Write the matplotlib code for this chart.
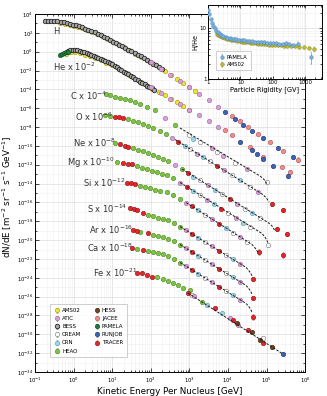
import numpy as np
import matplotlib.pyplot as plt
from matplotlib.ticker import LogLocator, LogFormatterSciNotation, NullFormatter

plt.rcParams["font.family"] = "DejaVu Sans"
plt.rcParams["mathtext.fontset"] = "dejavusans"

# ---------------------------------------------------------
# EXPERIMENTS / STYLE
# ---------------------------------------------------------
EXPERIMENTS = ["AMS02", "ATIC", "BESS", "CREAM", "CRN", "HEAO",
               "HESS", "JACEE", "PAMELA", "RUNJOB", "TRACER"]
FACE = {"AMS02": "#f2e52c", "ATIC": "#d9a0d8", "BESS": "#a8a8a8",
        "CREAM": "#ffffff", "CRN": "#9fd5e6", "HEAO": "#7cc243",
        "HESS": "#6f4521", "JACEE": "#f08c8c", "PAMELA": "#1d7b3c",
        "RUNJOB": "#3d63b4", "TRACER": "#e3262b"}
EDGE = {"AMS02": "#9c9412", "ATIC": "#9a6898", "BESS": "#262626",
        "CREAM": "#777777", "CRN": "#5a98ae", "HEAO": "#4d8a20",
        "HESS": "#3a2008", "JACEE": "#b05454", "PAMELA": "#0b4a1c",
        "RUNJOB": "#1c3272", "TRACER": "#8c1212"}
MEW = {"BESS": 0.6}
ZORD = {"AMS02": 2, "BESS": 3, "PAMELA": 4, "HEAO": 3, "CRN": 4, "CREAM": 4,
        "ATIC": 5, "TRACER": 5, "HESS": 5, "JACEE": 5, "RUNJOB": 5}
DRAW_ORDER = ["AMS02", "BESS", "PAMELA", "HEAO", "CRN", "CREAM",
              "ATIC", "TRACER", "HESS", "JACEE", "RUNJOB"]

# ---------------------------------------------------------
# DATA  (E in GeV/nucleon, flux already multiplied by scale)
# ---------------------------------------------------------
# H
H_BESS_E = [0.18, 0.22, 0.26, 0.32, 0.38, 0.46, 0.55, 0.66, 0.79, 0.95,
            1.15, 1.38, 1.66, 2.0, 2.4, 2.9, 3.5, 4.2, 5.0, 6.0,
            7.2, 8.7, 10.5, 12.6, 15.1, 18.2, 21.9, 26.3, 31.6, 38.0,
            45.7, 55.0, 66.0, 79.0, 95.0, 115.0, 138.0, 166.0, 200.0]
H_BESS_F = [1950, 1900, 1820, 1740, 1620, 1480, 1290, 1100, 910, 760,
            620, 490, 380, 290, 214, 155, 110, 78, 54, 37,
            26, 17.4, 11.7, 7.9, 5.4, 3.6, 2.45, 1.62, 1.07, 0.71,
            0.47, 0.31, 0.20, 0.13, 0.085, 0.055, 0.035, 0.022, 0.014]
H_AMS_E = [0.45, 0.6, 0.8, 1.0, 1.3, 1.7, 2.2, 3.0, 4.0, 5.5, 7.5, 10, 14,
           20, 28, 40, 56, 80, 110, 160, 230, 330, 470, 680, 1000, 1400]
H_AMS_F = [1070, 890, 690, 560, 430, 310, 214, 126, 78, 42, 23, 12.3, 6.2,
           2.9, 1.35, 0.63, 0.29, 0.13, 0.062, 0.0245, 0.0091, 0.0034,
           0.00132, 4.9e-4, 1.7e-4, 6.8e-5]
H_ATIC_E = [100, 180, 320, 560, 1000, 1800, 3200, 5600]
H_ATIC_F = [0.079, 0.0162, 3.5e-3, 7.6e-4, 1.6e-4, 3.2e-5, 6.9e-6, 1.5e-6]
H_RUNJOB_E = [8300, 15100, 24500, 41700, 81300, 2.0e5, 4.8e5]
H_RUNJOB_F = [4.0e-7, 6.6e-8, 1.5e-8, 4.0e-9, 7.6e-10, 6.6e-11, 6.8e-12]
H_JACEE_E = [12600, 20400, 33100, 60300, 1.23e5, 2.63e5, 6.46e5]
H_JACEE_F = [1.4e-7, 4.0e-8, 1.12e-8, 1.9e-9, 2.8e-10, 3.2e-11, 3.5e-12]

# He (x 1e-2)
He_PAM_E = [0.45, 0.50, 0.56, 0.63, 0.71]
He_PAM_F = [0.42, 0.52, 0.66, 0.83, 1.05]
He_BESS_E = [0.72, 0.83, 0.95, 1.10, 1.26, 1.45, 1.66, 1.91, 2.19, 2.51,
             2.88, 3.31, 3.80, 4.37, 5.01, 5.75, 6.61, 7.59, 8.71, 10.0,
             11.5, 13.2, 15.1, 17.4, 20.0, 22.9, 26.3, 30.2, 34.7, 39.8,
             45.7, 52.5, 60.3, 69.2, 79.4, 91.2, 105, 120]
He_BESS_F = [1.32, 1.48, 1.55, 1.51, 1.38, 1.20, 1.02, 0.83, 0.69, 0.56,
             0.45, 0.355, 0.28, 0.224, 0.182, 0.138, 0.105, 0.079, 0.059, 0.044,
             0.032, 0.022, 0.0158, 0.0112, 0.0079, 0.0056, 0.0040, 0.00275, 0.0019, 0.00132,
             9.3e-4, 6.6e-4, 4.8e-4, 3.5e-4, 2.5e-4, 1.8e-4, 1.32e-4, 9.5e-5]
He_AMS_E = [0.65, 0.85, 1.1, 1.5, 2.0, 2.7, 3.6, 5.0, 7.0, 10, 14, 20, 28,
            40, 56, 80, 110, 160, 230, 330, 470, 680, 1000]
He_AMS_F = [0.56, 0.89, 0.93, 0.72, 0.50, 0.33, 0.214, 0.132, 0.071, 0.035,
            0.0166, 0.0072, 0.0032, 1.3e-3, 5.6e-4, 2.5e-4, 1.17e-4, 5.8e-5,
            2.4e-5, 9.8e-6, 4.3e-6, 1.8e-6, 6.9e-7]
He_ATIC_E = [100, 180, 320, 560, 1000, 1800, 3200, 5600]
He_ATIC_F = [1.74e-4, 4.3e-5, 1.07e-5, 2.8e-6, 6.9e-7, 1.7e-7, 4.3e-8, 1.12e-8]
He_JACEE_E = [8300, 12600, 37200, 81300, 2.51e5, 4.07e5]
He_JACEE_F = [4.9e-9, 1.45e-9, 7.6e-11, 6.3e-12, 5.8e-13, 1.7e-13]
He_RUNJOB_E = [20400, 41700, 56200, 81300, 1.48e5, 3.63e5]
He_RUNJOB_F = [2.5e-10, 4.0e-11, 1.4e-11, 4.5e-12, 7.1e-13, 6.3e-14]

# C (x 1e-4)
C_E = [6.93, 8.79, 11.9, 16.0, 21.5, 29.0, 39.2, 52.7, 80.2, 129,
       235, 427, 984, 1250, 1900, 3880, 5240, 7480, 15300, 31300, 1.04e5]
C_F = [2.99e-5, 2.34e-5, 1.66e-5, 1.30e-5, 9.5e-6, 7.4e-6, 4.9e-6, 2.79e-6, 1.44e-6, 6.4e-7,
       9.1e-8, 1.64e-8, 1.61e-9, 5.4e-10, 2.9e-10, 5.9e-11, 2.24e-11, 8.4e-12, 1.52e-12,
       3.5e-13, 1.46e-14]
C_SRC = ["HEAO"] * 10 + ["ATIC", "HEAO", "CREAM", "CRN", "CREAM", "ATIC",
                         "CREAM", "ATIC", "CREAM", "ATIC", "CREAM"]
C_ERR = [0] * 20 + [0.22]
C_FIT_E = [574, 68200, 86500, 1.04e5]
C_FIT_F = [7.9e-9, 6.3e-14, 2.69e-14, 8.97e-15]

# O (x 1e-6)
O_E = [6.53, 8.79, 11.9, 15.1, 19.1, 25.8, 34.8, 46.8, 63.1, 85.1, 115, 174, 249,
       356, 510, 774, 1040, 1580, 2270, 3440, 5240, 7940, 12800, 20700, 37500,
       60500, 1.40e5, 2.69e5]
O_F = [1.90e-7, 1.67e-7, 1.31e-7, 1.11e-7, 9.8e-8, 7.1e-8, 4.9e-8, 3.4e-8, 2.37e-8,
       1.46e-8, 7.9e-9, 4.3e-9, 1.82e-9, 6.9e-10, 2.9e-10, 9.7e-11, 4.66e-11,
       1.55e-11, 6.6e-12, 2.48e-12, 8.2e-13, 2.75e-13, 8.1e-14, 2.38e-14, 4.9e-15,
       1.43e-15, 6.7e-17, 1.56e-17]
O_SRC = ["HEAO", "HEAO", "TRACER", "TRACER", "TRACER"] + ["HEAO"] * 8 + [
    "ATIC", "TRACER", "CRN", "CREAM", "ATIC", "CRN", "CREAM", "TRACER", "ATIC",
    "CREAM", "CRN", "CREAM", "ATIC", "TRACER", "TRACER"]
O_ERR = [0] * 26 + [0.2, 0.25]
O_FIT_E = [427, 76700, 97500, 1.17e5]
O_FIT_F = [4.75e-10, 7.8e-16, 3.3e-16, 1.10e-16]

# Ne (x 1e-8)
Ne_E = [11.9, 16.0, 21.5, 25.8, 34.8, 46.8, 63.1, 85.1, 115, 155, 208, 281, 427,
        647, 927, 1250, 1900, 3060, 4650, 7050, 11400, 17300, 27900, 42300, 68200,
        1.88e5, 3.41e5]
Ne_F = [2.17e-10, 1.58e-10, 1.04e-10, 8.2e-11, 5.9e-11, 4.1e-11, 2.86e-11, 1.98e-11,
        1.21e-11, 7.4e-12, 4.6e-12, 2.48e-12, 9.3e-13, 3.5e-13, 1.32e-13, 5.6e-14,
        2.38e-14, 7.0e-15, 2.34e-15, 7.8e-16, 2.29e-16, 7.6e-17, 2.25e-17, 7.5e-18,
        2.2e-18, 1.5e-19, 4.4e-20]
Ne_SRC = ["HEAO", "TRACER", "TRACER", "TRACER"] + ["HEAO"] * 8 + [
    "ATIC", "HEAO", "TRACER", "CRN", "CREAM", "ATIC", "CRN", "CREAM", "TRACER",
    "ATIC", "CREAM", "CRN", "CREAM", "TRACER", "TRACER"]
Ne_ERR = [0] * 25 + [0.2, 0.25]
Ne_FIT_E = [647, 1.10e5, 1.40e5, 1.67e5]
Ne_FIT_F = [3.5e-13, 7.3e-19, 3.1e-19, 9.2e-20]

# Mg (x 1e-10)
Mg_E = [13.4, 19.1, 25.8, 32.7, 44.2, 59.4, 80.2, 108, 146, 196, 264, 379, 574,
        873, 1250, 1900, 2880, 4380, 6640, 10100, 16300, 24700, 37500, 1.10e5, 2.69e5]
Mg_F = [2.19e-12, 1.64e-12, 1.35e-12, 1.11e-12, 7.3e-13, 5.1e-13, 3.5e-13, 2.43e-13,
        1.68e-13, 1.17e-13, 8.1e-14, 3.9e-14, 1.29e-14, 4.3e-15, 1.83e-15, 6.1e-16,
        2.03e-16, 6.7e-17, 2.25e-17, 7.5e-18, 2.2e-18, 7.3e-19, 2.44e-19, 3.0e-21, 2.6e-22]
Mg_SRC = ["HEAO", "TRACER", "TRACER", "TRACER"] + ["HEAO"] * 8 + [
    "ATIC", "TRACER", "CRN", "CREAM", "ATIC", "CRN", "TRACER", "CREAM", "ATIC",
    "CRN", "CREAM", "CREAM", "TRACER"]
Mg_ERR = [0] * 23 + [0.25, 0.3]
Mg_FIT_E = [574, 76700, 94600, 1.10e5]
Mg_FIT_F = [1.29e-14, 5.0e-20, 1.66e-20, 4.9e-21]

# Si (x 1e-12)
Si_E = [24.3, 30.8, 39.2, 52.7, 71.1, 95.9, 129, 174, 264, 379, 574, 822, 1170,
        1680, 2560, 3880, 5890, 8950, 13600, 20700, 31400, 64300]
Si_F = [1.23e-14, 1.06e-14, 8.3e-15, 5.5e-15, 4.3e-15, 3.13e-15, 2.34e-15, 1.83e-15,
        1.36e-15, 6.9e-16, 2.59e-16, 9.7e-17, 4.1e-17, 1.56e-17, 5.2e-18, 1.73e-18,
        5.7e-19, 1.91e-19, 6.4e-20, 2.12e-20, 7.0e-21, 5.4e-22]
Si_SRC = ["TRACER"] * 3 + ["HEAO"] * 8 + [
    "ATIC", "TRACER", "CRN", "CREAM", "ATIC", "TRACER", "CRN", "CREAM", "ATIC",
    "CREAM", "TRACER"]
Si_ERR = [0] * 21 + [0.3]
Si_FIT_E = [822, 42300, 52100, 60500]
Si_FIT_F = [9.7e-17, 3.4e-21, 1.27e-21, 4.8e-22]

# S (x 1e-14)
S_E = [29.0, 36.9, 44.2, 63.1, 85.1, 115, 155, 208, 281, 402, 574, 822, 1170, 1680,
       2560, 3880, 5890, 8950, 13600, 20700, 44900]
S_F = [2.36e-17, 1.99e-17, 1.76e-17, 7.5e-18, 5.2e-18, 3.6e-18, 2.49e-18, 1.73e-18,
       1.26e-18, 6.5e-19, 2.76e-19, 1.12e-19, 4.4e-20, 1.79e-20, 6.2e-21, 2.13e-21,
       7.4e-22, 2.6e-22, 8.9e-23, 3.1e-23, 7.4e-25]
S_SRC = ["TRACER"] * 4 + ["HEAO"] * 7 + [
    "ATIC", "TRACER", "CRN", "CREAM", "ATIC", "TRACER", "CREAM", "CRN", "ATIC", "TRACER"]
S_ERR = [0] * 20 + [0.25]
S_FIT_E = [574, 29600, 36400, 43600]
S_FIT_F = [2.76e-19, 1.26e-23, 4.6e-24, 1.36e-24]

# Ar (x 1e-16)
Ar_E = [34.8, 44.2, 52.7, 85.1, 115, 155, 208, 281, 402, 574, 822, 1170, 1680, 2560,
        3880, 5890, 8950, 13600, 20700, 44900]
Ar_F = [1.17e-19, 9.2e-20, 7.7e-20, 5.6e-20, 3.9e-20, 3.05e-20, 2.12e-20, 1.47e-20,
        8.0e-21, 3.4e-21, 1.44e-21, 5.4e-22, 2.19e-22, 7.7e-23, 2.61e-23, 9.1e-24,
        3.2e-24, 1.09e-24, 3.8e-25, 7.1e-27]
Ar_SRC = ["TRACER", "TRACER", "HEAO", "TRACER"] + ["HEAO"] * 6 + [
    "ATIC", "TRACER", "CRN", "CREAM", "ATIC", "TRACER", "CREAM", "CRN", "ATIC", "TRACER"]
Ar_ERR = [0] * 19 + [0.25]
Ar_FIT_E = [574, 29600, 36400, 43600]
Ar_FIT_F = [3.4e-21, 1.54e-25, 5.7e-26, 1.48e-26]

# Ca (x 1e-18)
Ca_E = [32.7, 44.2, 63.1, 85.1, 115, 155, 208, 281, 402, 574, 822, 1170, 1680, 2560,
        3880, 5890, 8950, 13600, 20700, 44900]
Ca_F = [1.55e-21, 1.27e-21, 8.8e-22, 6.9e-22, 5.4e-22, 4.2e-22, 3.09e-22, 2.04e-22,
        9.8e-23, 4.2e-23, 1.77e-23, 6.7e-24, 2.69e-24, 9.4e-25, 3.2e-25, 1.12e-25,
        3.9e-26, 1.34e-26, 4.7e-27, 6.8e-29]
Ca_SRC = ["TRACER", "HEAO", "TRACER"] + ["HEAO"] * 7 + [
    "ATIC", "TRACER", "CRN", "CREAM", "ATIC", "TRACER", "CREAM", "CRN", "ATIC", "TRACER"]
Ca_ERR = [0] * 19 + [0.3]
Ca_FIT_E = [574, 29600, 36400, 43600]
Ca_FIT_F = [4.2e-23, 1.89e-27, 6.9e-28, 1.81e-28]

# Fe (x 1e-21)
Fe_E = [44.2, 59.4, 80.2, 108, 146, 208, 281, 379, 510, 687, 1040, 927, 1170, 1320,
        2140, 2880, 4650, 7050, 11400, 13600, 17300, 18300, 33300, 42300, 68200,
        81500, 81500, 1.40e5, 2.69e5]
Fe_F = [3.4e-24, 2.96e-24, 1.96e-24, 1.29e-24, 1.12e-24, 6.8e-25, 4.5e-25, 2.77e-25,
        1.70e-25, 9.2e-26, 5.0e-26, 2.23e-26, 1.48e-26, 1.31e-26, 2.87e-27, 1.28e-27,
        5.7e-28, 1.68e-28, 4.95e-29, 3.27e-29, 1.46e-29, 9.6e-30, 2.84e-30, 1.87e-30,
        2.47e-31, 3.7e-31, 1.10e-31, 4.8e-32, 8.0e-33]
Fe_SRC = ["TRACER"] * 4 + ["HEAO"] * 7 + [
    "TRACER", "CREAM", "ATIC", "HEAO", "CRN", "TRACER", "CRN", "ATIC", "TRACER",
    "HESS", "ATIC", "TRACER", "HESS", "HESS", "CREAM", "TRACER", "HESS", "RUNJOB"]
Fe_ERR = [0] * 25 + [0.15, 0, 0, 0.1]
Fe_FIT_E = [927, 2.69e5]
Fe_FIT_F = [2.40e-26, 8.0e-33]

# H/He ratio (inset)
PAM_R = [1.0, 1.1, 1.2, 1.3, 1.45, 1.6, 1.8, 2.0, 2.3, 2.6, 3.0, 3.5, 4.0, 4.7, 5.5,
         6.5, 7.5, 9, 11, 13, 16, 19, 23, 28, 34, 42, 52, 65, 80, 100, 125, 160, 200,
         250, 320, 420, 600, 1500]
PAM_RATIO = [23, 19, 15.5, 13, 11.2, 10, 9.0, 8.4, 7.8, 7.4, 7.0, 6.8, 6.6, 6.4, 6.3,
             6.2, 6.1, 6.0, 5.9, 5.8, 5.7, 5.65, 5.55, 5.5, 5.45, 5.4, 5.3, 5.25, 5.2,
             5.1, 5.1, 5.0, 5.0, 5.05, 4.9, 4.8, 4.9, 2.7]
PAM_ERR = [0] * 36 + [0.5, 0.7]
AMS_R = [1.9, 2.1, 2.4, 2.7, 3.0, 3.4, 3.9, 4.5, 5.2, 6.0, 7.0, 8.0, 9.5, 11, 13, 15,
         18, 21, 25, 30, 36, 43, 52, 63, 76, 93, 115, 140, 175, 220, 280, 360, 470,
         640, 900, 1300, 1800]
AMS_RATIO = [7.8, 7.5, 7.2, 6.9, 6.7, 6.5, 6.3, 6.15, 6.0, 5.9, 5.8, 5.7, 5.6, 5.5,
             5.45, 5.35, 5.3, 5.2, 5.15, 5.1, 5.0, 4.95, 4.9, 4.85, 4.8, 4.75, 4.7,
             4.65, 4.6, 4.55, 4.5, 4.45, 4.4, 4.3, 4.2, 4.1, 4.0]
AMS_ERR = [0] * 35 + [0.25, 0.35]

# labels on the plot
LABELS = ["H", "He x 10$^{-2}$", "C x 10$^{-4}$", "O x 10$^{-6}$", "Ne x 10$^{-8}$",
          "Mg x 10$^{-10}$", "Si x 10$^{-12}$", "S x 10$^{-14}$", "Ar x 10$^{-16}$",
          "Ca x 10$^{-18}$", "Fe x 10$^{-21}$"]
LABEL_X = [0.067, 0.067, 0.130, 0.148, 0.141, 0.119, 0.178, 0.193, 0.200, 0.193, 0.215]
LABEL_Y = [0.950, 0.852, 0.771, 0.712, 0.640, 0.584, 0.528, 0.455, 0.397, 0.346, 0.277]

# ---------------------------------------------------------
# PLOT
# ---------------------------------------------------------
fig = plt.figure(figsize=(3.27, 3.96), dpi=100)
ax = fig.add_axes([0.107, 0.0606, 0.826, 0.904])
ax.set_xscale("log")
ax.set_yscale("log")

handles = {}


def draw(E, F, src, err):
    E = np.asarray(E, float)
    F = np.asarray(F, float)
    src = np.asarray(src)
    err = np.asarray(err, float)
    err = np.where(err > 0, err, np.nan)
    for name in DRAW_ORDER:
        m = src == name
        if not m.any():
            continue
        lo = F[m] * (1 - 10 ** -err[m])
        hi = F[m] * (10 ** err[m] - 1)
        h = ax.errorbar(E[m], F[m], yerr=[lo, hi], fmt="o", ms=3.2,
                        mfc=FACE[name], mec=EDGE[name], mew=MEW.get(name, 0.4),
                        ecolor="#8a8a8a", elinewidth=0.5, capsize=1.0,
                        capthick=0.5, zorder=ZORD[name])
        handles.setdefault(name, h)


def block(parts):
    E, F, S, R = [], [], [], []
    for name, e, f, r in parts:
        E += e
        F += f
        S += [name] * len(e)
        R += r if r else [0] * len(e)
    return E, F, S, R


H_E, H_F, H_S, H_R = block([
    ("AMS02", H_AMS_E, H_AMS_F, None),
    ("BESS", H_BESS_E, H_BESS_F, None),
    ("ATIC", H_ATIC_E, H_ATIC_F, None),
    ("RUNJOB", H_RUNJOB_E, H_RUNJOB_F, [0] * 6 + [0.2]),
    ("JACEE", H_JACEE_E, H_JACEE_F, [0] * 6 + [0.25]),
])
He_E, He_F, He_S, He_R = block([
    ("AMS02", He_AMS_E, He_AMS_F, None),
    ("BESS", He_BESS_E, He_BESS_F, None),
    ("PAMELA", He_PAM_E, He_PAM_F, None),
    ("ATIC", He_ATIC_E, He_ATIC_F, None),
    ("JACEE", He_JACEE_E, He_JACEE_F, [0] * 5 + [0.25]),
    ("RUNJOB", He_RUNJOB_E, He_RUNJOB_F, [0] * 5 + [0.25]),
])

draw(H_E, H_F, H_S, H_R)
draw(He_E, He_F, He_S, He_R)
for E, F, S, R, fe, ff in [
        (C_E, C_F, C_SRC, C_ERR, C_FIT_E, C_FIT_F),
        (O_E, O_F, O_SRC, O_ERR, O_FIT_E, O_FIT_F),
        (Ne_E, Ne_F, Ne_SRC, Ne_ERR, Ne_FIT_E, Ne_FIT_F),
        (Mg_E, Mg_F, Mg_SRC, Mg_ERR, Mg_FIT_E, Mg_FIT_F),
        (Si_E, Si_F, Si_SRC, Si_ERR, Si_FIT_E, Si_FIT_F),
        (S_E, S_F, S_SRC, S_ERR, S_FIT_E, S_FIT_F),
        (Ar_E, Ar_F, Ar_SRC, Ar_ERR, Ar_FIT_E, Ar_FIT_F),
        (Ca_E, Ca_F, Ca_SRC, Ca_ERR, Ca_FIT_E, Ca_FIT_F),
        (Fe_E, Fe_F, Fe_SRC, Fe_ERR, Fe_FIT_E, Fe_FIT_F)]:
    draw(E, F, S, R)
    ax.plot(fe, ff, color="#1a1a1a", lw=0.7, ls=(0, (2.5, 1.5)), zorder=6)

for txt, x, y in zip(LABELS, LABEL_X, LABEL_Y):
    ax.text(x, y, txt, transform=ax.transAxes, fontsize=6, ha="left",
            va="center", color="#333333", zorder=7)

ax.set_xlim(0.1, 1e6)
ax.set_ylim(1e-34, 1e4)
ax.xaxis.set_major_locator(LogLocator(base=10, numticks=12))
ax.xaxis.set_minor_locator(LogLocator(base=10, subs=np.arange(2, 10), numticks=12))
ax.xaxis.set_minor_formatter(NullFormatter())
ax.yaxis.set_major_locator(LogLocator(base=100, numticks=30))
ax.yaxis.set_major_formatter(LogFormatterSciNotation(base=10))
ax.yaxis.set_minor_locator(LogLocator(base=10, subs=[1.0], numticks=50))
ax.yaxis.set_minor_formatter(NullFormatter())
ax.tick_params(which="both", direction="in", top=True, right=True,
               labelsize=3.8, width=0.5)
ax.tick_params(axis="x", pad=2.8)
ax.tick_params(axis="y", pad=1.2)
ax.tick_params(which="major", length=3)
ax.tick_params(which="minor", length=1.5)
ax.grid(True, which="major", color="#dddddd", lw=0.5)
ax.grid(True, which="minor", color="#efefef", lw=0.4)
ax.set_axisbelow(True)
for s in ax.spines.values():
    s.set_linewidth(0.7)

ax.set_xlabel("Kinetic Energy Per Nucleus [GeV]", fontsize=6.3)
ax.xaxis.set_label_coords(0.5, -0.042)
ax.set_ylabel(r"dN/dE [m$^{-2}$ sr$^{-1}$ s$^{-1}$ GeV$^{-1}$]", fontsize=6.3)
ax.yaxis.set_label_coords(-0.078, 0.49)

leg = ax.legend([handles[n] for n in EXPERIMENTS], EXPERIMENTS, loc="lower left",
                bbox_to_anchor=(0.045, 0.033), ncol=2, fontsize=4,
                frameon=True, fancybox=False, edgecolor="#aaaaaa",
                borderpad=0.7, handletextpad=0.3, columnspacing=2.2,
                labelspacing=0.55, handlelength=1.2)
leg.get_frame().set_linewidth(0.5)
leg.set_zorder(10)

# ---------------------------------------------------------
# INSET: H/He
# ---------------------------------------------------------
axin = fig.add_axes([0.636, 0.8005, 0.349, 0.187])
axin.set_xscale("log")
axin.set_yscale("log")
pe = np.where(np.asarray(PAM_ERR) > 0, PAM_ERR, np.nan)
ae = np.where(np.asarray(AMS_ERR) > 0, AMS_ERR, np.nan)
h1 = axin.errorbar(PAM_R, PAM_RATIO, yerr=pe, fmt="o", ms=2.6, mfc="#79afe0",
                   mec="#4a7fb0", mew=0.3, ecolor="#8a8a8a", elinewidth=0.5,
                   capsize=0.8, capthick=0.5, zorder=4)
h2 = axin.errorbar(AMS_R, AMS_RATIO, yerr=ae, fmt="o", ms=2.6, mfc="#bcbf25",
                   mec="#76780e", mew=0.3, ecolor="#8a8a8a", elinewidth=0.5,
                   capsize=0.8, capthick=0.5, zorder=3)
axin.set_xlim(1, 3300)
axin.set_ylim(1, 29)
axin.set_xticks([1, 10, 100, 1000])
axin.set_xticklabels(["1", "10", "100", "1000"])
axin.set_yticks([1, 10])
axin.set_yticklabels(["1", "10"])
axin.xaxis.set_minor_formatter(NullFormatter())
axin.yaxis.set_minor_formatter(NullFormatter())
axin.tick_params(which="both", direction="in", top=True, right=True,
                 labelsize=4, width=0.5, pad=1)
axin.tick_params(which="major", length=2.5)
axin.tick_params(which="minor", length=1.2)
axin.grid(True, which="major", color="#dddddd", lw=0.5)
axin.grid(True, which="minor", color="#efefef", lw=0.4)
axin.set_axisbelow(True)
for s in axin.spines.values():
    s.set_linewidth(0.7)
axin.set_xlabel("Particle Rigidity [GV]", fontsize=4.8, labelpad=0.5)
axin.set_ylabel("H/He", fontsize=4.8, labelpad=1)
lg2 = axin.legend([h1, h2], ["PAMELA", "AMS02"], loc="lower left",
                  bbox_to_anchor=(0.05, 0.08), fontsize=3.8, frameon=True,
                  fancybox=False, edgecolor="#aaaaaa", handlelength=1.0,
                  handletextpad=0.4, borderpad=0.6, labelspacing=0.5)
lg2.get_frame().set_linewidth(0.5)

fig.savefig("out.png", dpi=100)
